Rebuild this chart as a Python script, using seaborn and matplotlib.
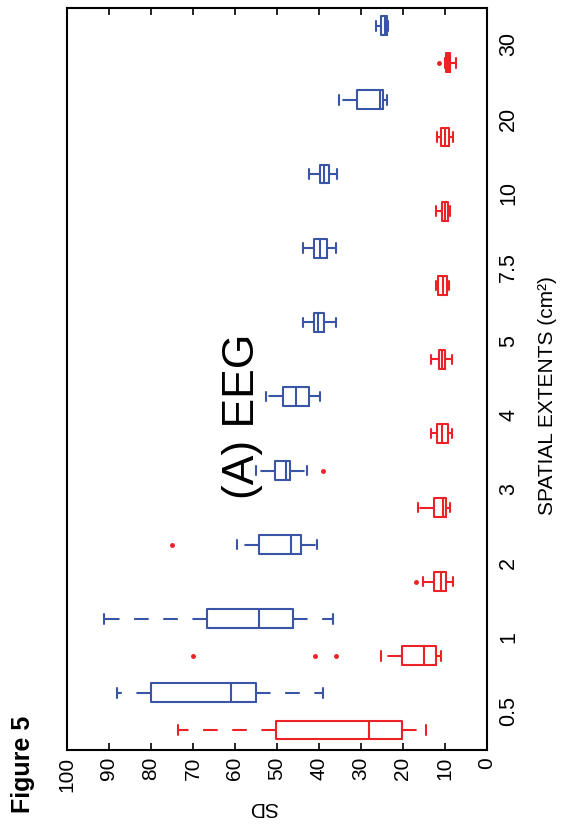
import numpy as np
import pandas as pd
import matplotlib
matplotlib.use('Agg')
import matplotlib.pyplot as plt
import seaborn as sns

# --- data (SD per spatial extent) ---
extents = ['0.5', '1', '2', '3', '4', '5', '7.5', '10', '20', '30']
groups = ['red', 'blue']

red_whislo = [14.5, 10.9, 8.0, 8.8, 8.4, 8.4, 9.0, 8.8, 8.0, 7.3]
red_q1 = [20.2, 12.1, 9.8, 9.8, 9.4, 10.0, 9.6, 9.3, 9.1, 8.7]
red_med = [28.2, 15.1, 11.0, 10.5, 10.8, 10.8, 10.5, 10.0, 10.0, 9.2]
red_q3 = [50.3, 20.3, 12.5, 12.7, 11.8, 11.4, 11.7, 10.8, 10.9, 9.7]
red_whishi = [73.5, 25.3, 15.2, 16.4, 13.3, 13.3, 12.2, 12.2, 12.0, 10.0]
red_fliers = [[], [36.0, 41.0, 69.9], [16.8], [], [], [], [], [], [], [11.4]]

blue_whislo = [39.0, 36.7, 40.5, 42.9, 39.8, 36.0, 36.0, 35.8, 23.9, 23.6]
blue_q1 = [54.9, 46.3, 44.4, 46.8, 42.3, 38.9, 38.2, 37.5, 24.8, 23.8]
blue_med = [61.0, 54.3, 46.7, 47.9, 45.4, 40.3, 39.8, 38.8, 25.5, 24.3]
blue_q3 = [80.1, 66.7, 54.4, 50.4, 48.6, 41.3, 41.3, 39.8, 31.0, 25.2]
blue_whishi = [88.2, 91.3, 59.6, 55.0, 52.5, 43.7, 43.9, 42.3, 35.2, 26.4]
blue_fliers = [[], [], [74.9], [39.0], [], [], [], [], [], []]

red = '#ed2227'
blue = '#3a54a6'


# --- turn the box summaries into samples seaborn can summarise again ---
def expand(lo, q1, med, q3, hi, out, reps=10):
    return [lo] + [q1] * reps + [med] * reps + [q3] * reps + [hi] + list(out)


rows = []
summaries = {
    'red': (red_whislo, red_q1, red_med, red_q3, red_whishi, red_fliers),
    'blue': (blue_whislo, blue_q1, blue_med, blue_q3, blue_whishi, blue_fliers),
}
for g, (lo, q1, med, q3, hi, out) in summaries.items():
    for i, ext in enumerate(extents):
        for v in expand(lo[i], q1[i], med[i], q3[i], hi[i], out[i]):
            rows.append({'extent': ext, 'group': g, 'SD': v})
df = pd.DataFrame(rows)

# --- plot (figure is drawn turned a quarter turn, like the source page) ---
sns.set_theme(style='white')
plt.rcParams['font.family'] = ['Liberation Sans', 'DejaVu Sans']
plt.rcParams['text.color'] = 'black'
plt.rcParams['axes.labelcolor'] = 'black'

fig = plt.figure(figsize=(5.63, 8.25), dpi=100)
ax = fig.add_axes([0.119, 0.0909, 0.746, 0.8994])

sns.boxplot(data=df, x='SD', y='extent', hue='group', order=extents,
            hue_order=groups, palette={'red': red, 'blue': blue},
            orient='y', fill=False, width=1.0, gap=0.49, linewidth=1.5,
            whis=1.5, whiskerprops={'linestyle': (0, (7, 7))},
            flierprops={'marker': 'o', 'markersize': 2.5},
            legend=False, ax=ax)

# outliers are red for both series
for line in ax.lines:
    if line.get_linestyle() in ('None', '') and line.get_marker() not in ('None', '', None):
        line.set_color(red)
        line.set_markerfacecolor(red)
        line.set_markeredgecolor(red)

ax.set_xlim(100, 0)
ax.set_ylim(-0.52, 9.49)

ax.set_xticks(range(0, 101, 10))
ax.set_xticklabels([str(v) for v in range(0, 101, 10)], rotation=90,
                   va='top', ha='center')
ax.tick_params(axis='x', direction='in', top=True, bottom=True, length=5,
               width=1.2, labelsize=15, pad=5, colors='black')

ax.yaxis.tick_right()
ax.set_yticks(range(len(extents)))
ax.set_yticklabels(extents, rotation=90, va='center', ha='left')
ax.tick_params(axis='y', length=0, labelsize=15.5, pad=8, colors='black')

for s in ax.spines.values():
    s.set_color('black')
    s.set_linewidth(1.5)

ax.set_xlabel('SD', fontsize=15, rotation=180, color='black')
ax.xaxis.label.set_va('center')
ax.xaxis.set_label_coords(0.467, -0.077)

ax.set_ylabel('SPATIAL EXTENTS (cm²)', fontsize=15, rotation=90, color='black')
ax.yaxis.set_label_position('right')
ax.yaxis.label.set_va('center')
ax.yaxis.label.set_ha('center')
ax.yaxis.set_label_coords(1.145, 0.478)

fig.text(0.43, 0.495, '(A) EEG', rotation=90, ha='center', va='center',
         fontsize=32, color='black')
fig.text(0.04, 0.073, 'Figure 5', rotation=90, ha='center', va='center',
         fontsize=18, fontweight='bold', color='black')

fig.savefig('out.png', dpi=100)
